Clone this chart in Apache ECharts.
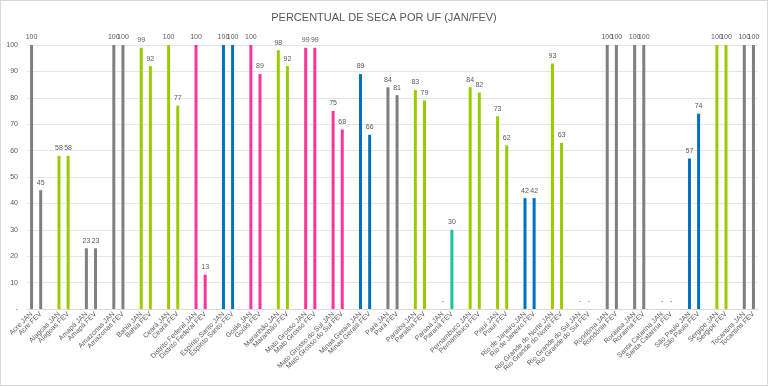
<!DOCTYPE html>
<html><head><meta charset="utf-8">
<script src="https://cdn.jsdelivr.net/npm/echarts@6/dist/echarts.min.js"></script>
<style>html,body{margin:0;padding:0;background:#fff}#c{width:768px;height:386px;box-sizing:border-box;border:1px solid #d9d9d9}</style>
</head><body><div id="c"></div>
<script>
const states = ["Acre","Alagoas","Amapá","Amazonas","Bahia","Ceará","Distrito Federal","Espírito Santo","Goiás","Maranhão","Mato Grosso","Mato Grosso do Sul","Minas Gerais","Pará","Paraíba","Paraná","Pernambuco","Piauí","Rio de Janeiro","Rio Grande do Norte","Rio Grande do Sul","Rondônia","Roraima","Santa Catarina","São Paulo","Sergipe","Tocantins"];
const regions = ["Norte","Nordeste","Norte","Norte","Nordeste","Nordeste","Centro-Oeste","Sudeste","Centro-Oeste","Nordeste","Centro-Oeste","Centro-Oeste","Sudeste","Norte","Nordeste","Sul","Nordeste","Nordeste","Sudeste","Nordeste","Sul","Norte","Norte","Sul","Sudeste","Nordeste","Norte"];
const jan = [100,58,23,100,99,100,100,100,100,98,99,75,89,84,83,0,84,73,42,93,0,100,100,0,57,100,100];
const fev = [45,58,23,100,92,77,13,100,89,92,99,68,66,81,79,30,82,62,42,63,0,100,100,0,74,100,100];
const yTicks = ["-","10","20","30","40","50","60","70","80","90","100"];

const regionColor = {"Norte":"#7f7f7f","Nordeste":"#99cc00","Centro-Oeste":"#ff3399","Sudeste":"#0070c0","Sul":"#1ec39a"};

const cats = [], vals = [];
states.forEach((s,i)=>{
  const col = regionColor[regions[i]];
  cats.push(s+" JAN"); vals.push({value:jan[i], itemStyle:{color:col}});
  cats.push(s+" FEV"); vals.push({value:fev[i], itemStyle:{color:col}});
  if (i < states.length-1) { cats.push(""); vals.push({value:null}); }
});

const chart = echarts.init(document.getElementById('c'));
const txt = '#595959', ff = 'Liberation Sans';
chart.setOption({
  animation:false,
  title:{text:'PERCENTUAL DE SECA POR UF (JAN/FEV)', left:'center', top:6,
    textStyle:{fontSize:11, fontWeight:'normal', color:txt, fontFamily:ff}},
  grid:{left:26, right:9, top:44, bottom:76, containLabel:false},
  xAxis:{type:'category', data:cats, boundaryGap:true,
    axisTick:{show:false}, axisLine:{lineStyle:{color:'#d9d9d9'}},
    axisLabel:{interval:0, rotate:45, fontSize:7, color:txt, fontFamily:ff, margin:4}},
  yAxis:{type:'value', min:0, max:100, interval:10,
    axisLine:{show:false}, axisTick:{show:false},
    splitLine:{lineStyle:{color:'#e6e6e6'}},
    axisLabel:{fontSize:7, color:txt, fontFamily:ff, margin:9,
      formatter:(v)=>yTicks[Math.round(v/10)]}},
  series:[{type:'bar', data:vals, barWidth:3,
    label:{show:true, position:'top', fontSize:7, color:txt, fontFamily:ff, distance:4,
      formatter:(p)=> p.value===null||p.value===undefined ? '' : (p.value===0?'-':String(p.value))}}]
});
</script></body></html>
